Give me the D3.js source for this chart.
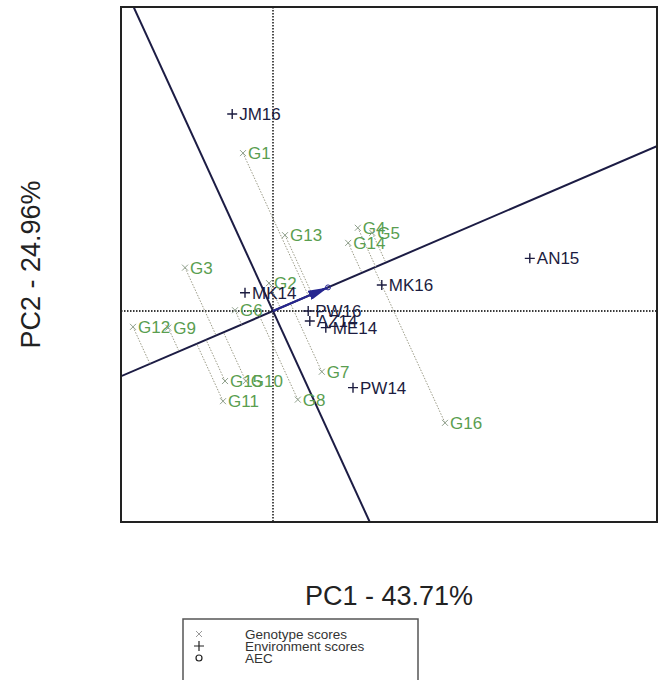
<!DOCTYPE html>
<html>
<head>
<meta charset="utf-8">
<script src="https://cdn.jsdelivr.net/npm/d3@7"></script>
<style>
  body { margin: 0; background: #fff; }
  svg { display: block; font-family: "Liberation Sans", Arial, sans-serif; }
</style>
</head>
<body>
<svg id="chart" width="660" height="680"></svg>
<script>
// GGE biplot, mean vs. stability view (average environment coordinate)
const genotypeNames = ["G1","G2","G3","G4","G5","G6","G7","G8","G9","G10","G11","G12","G13","G14","G15","G16"];
const genotypePC1   = [-0.75,-0.10,-2.20, 2.12, 2.48,-0.95, 1.22, 0.62,-2.62,-0.68,-1.25,-3.50, 0.30, 1.88,-1.20, 4.30];
const genotypePC2   = [ 4.08, 0.72, 1.12, 2.15, 2.02, 0.02,-1.57,-2.29,-0.43,-1.81,-2.33,-0.41, 1.96, 1.76,-1.81,-2.89];

const environmentNames = ["JM16","MK16","AN15","PW14","ME14","AZ14","PW16","MK14"];
const environmentPC1   = [-1.02, 2.72, 6.42, 2.00, 1.32, 0.92, 0.88,-0.70];
const environmentPC2   = [ 5.09, 0.67, 1.36,-1.98,-0.43,-0.26, 0.00, 0.47];

// average environment coordinate
const aecPC1 = 1.375;
const aecPC2 = 0.61;

const axisTitles = ["PC1 - 43.71%", "PC2 - 24.96%"];
const legendLabels = ["Genotype scores", "Environment scores", "AEC"];

const svg = d3.select("#chart");
const box = { left: 121, right: 657, top: 7, bottom: 522 };

const x = d3.scaleLinear().domain([-3.8, 9.6]).range([box.left, box.right]);
const y = d3.scaleLinear().domain([-5.452, 7.855]).range([box.bottom, box.top]);

const genotypes = genotypeNames.map((n, i) => ({ name: n, pc1: genotypePC1[i], pc2: genotypePC2[i] }));
const environments = environmentNames.map((n, i) => ({ name: n, pc1: environmentPC1[i], pc2: environmentPC2[i] }));

const defs = svg.append("defs");
defs.append("clipPath").attr("id", "plotClip")
  .append("rect").attr("x", box.left).attr("y", box.top)
  .attr("width", box.right - box.left).attr("height", box.bottom - box.top);

defs.append("marker")
  .attr("id", "arrowHead").attr("viewBox", "0 0 10 10")
  .attr("refX", 10).attr("refY", 5)
  .attr("markerWidth", 10).attr("markerHeight", 5)
  .attr("markerUnits", "strokeWidth")
  .attr("orient", "auto")
  .attr("preserveAspectRatio", "none")
  .append("path").attr("d", "M0,0 L10,5 L0,10 Z").attr("fill", "#262690");

const plot = svg.append("g").attr("clip-path", "url(#plotClip)");

// reference lines through the origin
plot.append("line")
  .attr("x1", x(0)).attr("x2", x(0)).attr("y1", box.top).attr("y2", box.bottom)
  .attr("stroke", "#3a3a3a").attr("stroke-width", 1.8).attr("stroke-dasharray", "1.5,1.5");
plot.append("line")
  .attr("x1", box.left).attr("x2", box.right).attr("y1", y(0)).attr("y2", y(0))
  .attr("stroke", "#3a3a3a").attr("stroke-width", 1.8).attr("stroke-dasharray", "1.5,1.5");

// AEC abscissa and ordinate
const aecLen = Math.hypot(aecPC1, aecPC2);
const ux = aecPC1 / aecLen, uy = aecPC2 / aecLen;
const far = 40;
plot.append("line")
  .attr("x1", x(-far * ux)).attr("y1", y(-far * uy))
  .attr("x2", x(far * ux)).attr("y2", y(far * uy))
  .attr("stroke", "#1c1c44").attr("stroke-width", 2);
plot.append("line")
  .attr("x1", x(far * uy)).attr("y1", y(-far * ux))
  .attr("x2", x(-far * uy)).attr("y2", y(far * ux))
  .attr("stroke", "#1c1c44").attr("stroke-width", 2);

// projections of genotypes onto the AEC abscissa
plot.selectAll("line.proj").data(genotypes).join("line")
  .attr("class", "proj")
  .attr("x1", d => x(d.pc1)).attr("y1", d => y(d.pc2))
  .attr("x2", d => { const t = d.pc1 * ux + d.pc2 * uy; return x(t * ux); })
  .attr("y2", d => { const t = d.pc1 * ux + d.pc2 * uy; return y(t * uy); })
  .attr("stroke", "#9a9a86").attr("stroke-width", 1).attr("stroke-dasharray", "1.5,1.5");

// genotype markers and labels
const gG = plot.selectAll("g.geno").data(genotypes).join("g")
  .attr("class", "geno")
  .attr("transform", d => `translate(${x(d.pc1)},${y(d.pc2)})`);
gG.append("path").attr("d", "M-3,-3 L3,3 M-3,3 L3,-3")
  .attr("stroke", "#8fa08c").attr("stroke-width", 1).attr("fill", "none");
gG.append("text").attr("x", 5).attr("dy", "0.36em")
  .attr("font-size", 17).attr("fill", "#5a9e50").text(d => d.name);

// environment markers and labels
const eG = plot.selectAll("g.env").data(environments).join("g")
  .attr("class", "env")
  .attr("transform", d => `translate(${x(d.pc1)},${y(d.pc2)})`);
eG.append("path").attr("d", "M-5,0 L5,0 M0,-5 L0,5")
  .attr("stroke", "#1c1c40").attr("stroke-width", 1.4).attr("fill", "none");
eG.append("text").attr("x", 7).attr("dy", "0.36em")
  .attr("font-size", 17).attr("fill", "#1c1c40").text(d => d.name);

// AEC arrow
plot.append("line")
  .attr("x1", x(0)).attr("y1", y(0))
  .attr("x2", x(aecPC1)).attr("y2", y(aecPC2))
  .attr("stroke", "#262690").attr("stroke-width", 2)
  .attr("marker-end", "url(#arrowHead)");
plot.append("circle")
  .attr("cx", x(aecPC1)).attr("cy", y(aecPC2)).attr("r", 2.5)
  .attr("fill", "none").attr("stroke", "#262690").attr("stroke-width", 1);

// frame
svg.append("rect")
  .attr("x", box.left).attr("y", box.top)
  .attr("width", box.right - box.left).attr("height", box.bottom - box.top)
  .attr("fill", "none").attr("stroke", "#222").attr("stroke-width", 2);

// axis titles
svg.append("text")
  .attr("x", (box.left + box.right) / 2).attr("y", 605)
  .attr("text-anchor", "middle").attr("font-size", 27).attr("fill", "#222")
  .text(axisTitles[0]);
svg.append("text")
  .attr("transform", `translate(40,${(box.top + box.bottom) / 2}) rotate(-90)`)
  .attr("text-anchor", "middle").attr("font-size", 27).attr("fill", "#222")
  .text(axisTitles[1]);

// legend
const lg = svg.append("g").attr("transform", "translate(183,619)");
lg.append("rect").attr("width", 235).attr("height", 70)
  .attr("fill", "#fff").attr("stroke", "#555").attr("stroke-width", 1.5);
const rowY = [15, 27, 39];
lg.append("path").attr("transform", `translate(16,${rowY[0]})`)
  .attr("d", "M-3,-3 L3,3 M-3,3 L3,-3").attr("stroke", "#999").attr("stroke-width", 1);
lg.append("path").attr("transform", `translate(16,${rowY[1]})`)
  .attr("d", "M-5,0 L5,0 M0,-5 L0,5").attr("stroke", "#222").attr("stroke-width", 1.2);
lg.append("circle").attr("cx", 16).attr("cy", rowY[2]).attr("r", 3)
  .attr("fill", "none").attr("stroke", "#222").attr("stroke-width", 1.2);
lg.selectAll("text.leg").data(legendLabels).join("text")
  .attr("class", "leg")
  .attr("x", 62).attr("y", (d, i) => rowY[i]).attr("dy", "0.36em")
  .attr("font-size", 13.5).attr("fill", "#333").text(d => d);
</script>
</body>
</html>
